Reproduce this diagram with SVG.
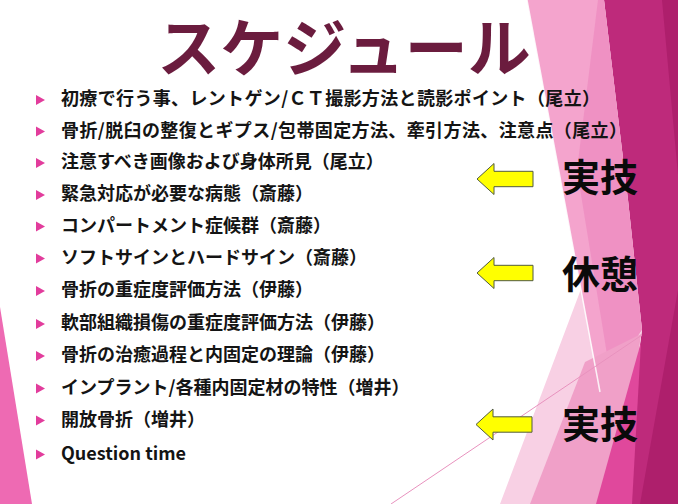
<svg xmlns="http://www.w3.org/2000/svg" xmlns:xlink="http://www.w3.org/1999/xlink" width="678" height="504" viewBox="0 0 678 504">
  <style>
    .item { font-family: "Noto Sans CJK JP", "Noto Sans", sans-serif; font-size: 18px; font-weight: 700; fill: #141414; }
    .label { font-family: "Noto Sans CJK JP", sans-serif; font-size: 38px; font-weight: 700; fill: #0a0a0a; }
    .title { font-family: "Noto Sans CJK JP", sans-serif; font-size: 63px; font-weight: 700; fill: #6B1C3E; }
    .bullet { fill: #E23C9C; }
    .arrow { fill: #FFFF00; stroke: #505a40; stroke-width: 1; }
  </style>
  <defs>
    <path id="bul" d="M0,-5 L9,0 L0,5 Z"/>
    <path id="arr" d="M0,0 L17,-15.5 L17,-7.7 L56,-7.7 L56,7.7 L17,7.7 L17,15.5 Z"/>
  </defs>
  <rect width="678" height="504" fill="#ffffff"/>
  <g id="background">
    <polygon points="0,307 32,504 0,504" fill="#EE6AB3"/>
    <polygon points="604,0 678,0 678,504 618,504 642,330 628,200" fill="#BE2A7B"/>
    <polygon points="662,0 678,0 678,175" fill="#AE1F6C"/>
    <polygon points="527,0 604,0 628,200 642,330 600,392" fill="#F4A4CD"/>
    <polygon points="598,0 604,0 628,200 642,330 612,385 577,170" fill="#EE8CC0" opacity="0.8"/>
    <polygon points="500,504 581,289 600,392 642,330 618,504" fill="#F8D0E4"/>
    <polygon points="530,504 585,362 641,334 618,504" fill="#F0A0C8"/>
    <polygon points="596,504 641,342 632,504" fill="#E0489C"/>
    <polygon points="678,290 678,504 640,504" fill="#AE1F6C"/>
    <line x1="527" y1="0" x2="600" y2="392" stroke="#ffffff" stroke-width="1.5" opacity="0.85"/>
    <line x1="391" y1="504" x2="642" y2="335" stroke="#E892BE" stroke-width="1"/>
  </g>
  <g id="title">
    <text class="title" x="344" y="71" text-anchor="middle">スケジュール</text>
  </g>
  <g id="items">
    <g id="item1"><use href="#bul" class="bullet" x="36" y="100"/><text class="item" x="61" y="105" textLength="539" lengthAdjust="spacing">初療で行う事、レントゲン/ＣＴ撮影方法と読影ポイント（尾立）</text></g>
    <g id="item2"><use href="#bul" class="bullet" x="36" y="131.5"/><text class="item" x="61" y="136.5" textLength="566" lengthAdjust="spacing">骨折/脱臼の整復とギプス/包帯固定方法、牽引方法、注意点（尾立）</text></g>
    <g id="item3"><use href="#bul" class="bullet" x="36" y="163"/><text class="item" x="61" y="168">注意すべき画像および身体所見（尾立）</text></g>
    <g id="item4"><use href="#bul" class="bullet" x="36" y="195"/><text class="item" x="61" y="200">緊急対応が必要な病態（斎藤）</text></g>
    <g id="item5"><use href="#bul" class="bullet" x="36" y="226.5"/><text class="item" x="61" y="231.5">コンパートメント症候群（斎藤）</text></g>
    <g id="item6"><use href="#bul" class="bullet" x="36" y="258.5"/><text class="item" x="61" y="263.5">ソフトサインとハードサイン（斎藤）</text></g>
    <g id="item7"><use href="#bul" class="bullet" x="36" y="291"/><text class="item" x="61" y="296">骨折の重症度評価方法（伊藤）</text></g>
    <g id="item8"><use href="#bul" class="bullet" x="36" y="324"/><text class="item" x="61" y="329">軟部組織損傷の重症度評価方法（伊藤）</text></g>
    <g id="item9"><use href="#bul" class="bullet" x="36" y="356"/><text class="item" x="61" y="361">骨折の治癒過程と内固定の理論（伊藤）</text></g>
    <g id="item10"><use href="#bul" class="bullet" x="36" y="388.5"/><text class="item" x="61" y="393.5">インプラント/各種内固定材の特性（増井）</text></g>
    <g id="item11"><use href="#bul" class="bullet" x="36" y="420.5"/><text class="item" x="61" y="425.5">開放骨折（増井）</text></g>
    <g id="item12"><use href="#bul" class="bullet" x="36" y="454.5"/><text class="item" x="61" y="459.5">Question time</text></g>
  </g>
  <g id="connectors">
    <use href="#arr" class="arrow" transform="translate(477,179)"/>
    <use href="#arr" class="arrow" transform="translate(477,273)"/>
    <use href="#arr" class="arrow" transform="translate(476,424.5)"/>
  </g>
  <g id="label-jitsugi1"><text class="label" x="562" y="191">実技</text></g>
  <g id="label-kyukei"><text class="label" x="562" y="288">休憩</text></g>
  <g id="label-jitsugi2"><text class="label" x="562" y="438">実技</text></g>
</svg>
